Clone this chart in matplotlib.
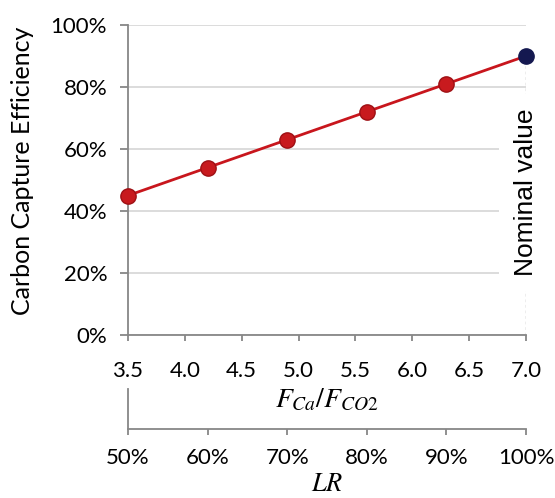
import matplotlib
matplotlib.use("Agg")
import matplotlib.pyplot as plt
from matplotlib.ticker import PercentFormatter

# data
ratio = [3.5, 4.2, 4.9, 5.6, 6.3, 7.0]
efficiency = [0.45, 0.54, 0.63, 0.72, 0.81, 0.90]
x_ticks = [3.5, 4.0, 4.5, 5.0, 5.5, 6.0, 6.5, 7.0]
y_ticks = [0.0, 0.2, 0.4, 0.6, 0.8, 1.0]
lr_ticks = [0.5, 0.6, 0.7, 0.8, 0.9, 1.0]
nominal_x = 7.0
nominal_y = 0.90

plt.rcParams["font.family"] = ["Lato", "DejaVu Sans"]
plt.rcParams["mathtext.fontset"] = "stix"

axis_grey = "#878787"
red = "#C8161D"

fig = plt.figure(figsize=(5.55, 4.98), dpi=100)
ax = fig.add_axes([128 / 555, 1 - 335 / 498, 398 / 555, 310 / 498])

ax.set_xlim(3.5, 7.0)
ax.set_ylim(0, 1.0)
ax.set_xticks(x_ticks)
ax.set_xticklabels([f"{t:.1f}" for t in x_ticks])
ax.set_yticks(y_ticks)
ax.yaxis.set_major_formatter(PercentFormatter(1.0, decimals=0))
ax.grid(axis="y", color="#D9D9D9", linewidth=1.3, zorder=0)
ax.set_axisbelow(True)

for side in ["top", "right"]:
    ax.spines[side].set_visible(False)
for side in ["left", "bottom"]:
    ax.spines[side].set_color(axis_grey)
    ax.spines[side].set_linewidth(1.3)
ax.tick_params(axis="y", length=6, width=1.3, color=axis_grey, pad=9, labelsize=16)
ax.tick_params(axis="x", length=4.5, width=1.3, color=axis_grey, pad=14, labelsize=16)

# dotted marker line at the nominal point
ax.vlines(nominal_x, 0, nominal_y, colors="#A6A6A6", linestyles=(0, (2, 2)),
          linewidth=1, zorder=1)
ax.text(nominal_x, 0.46, "Nominal value", rotation=90, ha="center", va="center",
        fontsize=19, fontfamily="Liberation Sans", zorder=2, clip_on=False,
        bbox=dict(facecolor="white", edgecolor="none", boxstyle="square,pad=0.55"))

ax.plot(ratio, efficiency, color=red, linewidth=2, zorder=3, clip_on=False)
ax.plot(ratio[:-1], efficiency[:-1], linestyle="none", marker="o", markersize=11,
        markerfacecolor="#C81A1E", markeredgecolor="#9E1014", markeredgewidth=1,
        zorder=4, clip_on=False)
ax.plot([nominal_x], [nominal_y], linestyle="none", marker="o", markersize=11,
        markerfacecolor="#141850", markeredgecolor="#141850", zorder=4,
        clip_on=False)

ax.set_ylabel("Carbon Capture Efficiency", fontsize=18)
ax.yaxis.set_label_coords(-0.235, 0.529)
ax.set_xlabel(r"$F_{Ca}/F_{CO2}$", fontsize=20, labelpad=4)

# secondary axis for liquid ratio
ax2 = fig.add_axes([128 / 555, 1 - 429 / 498, 398 / 555, 40 / 498])
ax2.set_xlim(0.5, 1.0)
ax2.set_xticks(lr_ticks)
ax2.xaxis.set_major_formatter(PercentFormatter(1.0, decimals=0))
ax2.set_yticks([])
ax2.patch.set_visible(False)
for side in ["top", "right"]:
    ax2.spines[side].set_visible(False)
for side in ["left", "bottom"]:
    ax2.spines[side].set_color(axis_grey)
    ax2.spines[side].set_linewidth(1.3)
ax2.tick_params(axis="x", length=4.5, width=1.3, color=axis_grey, pad=9, labelsize=16)
ax2.set_xlabel(r"$LR$", fontsize=19, labelpad=2)

fig.savefig("out.png", dpi=100)
